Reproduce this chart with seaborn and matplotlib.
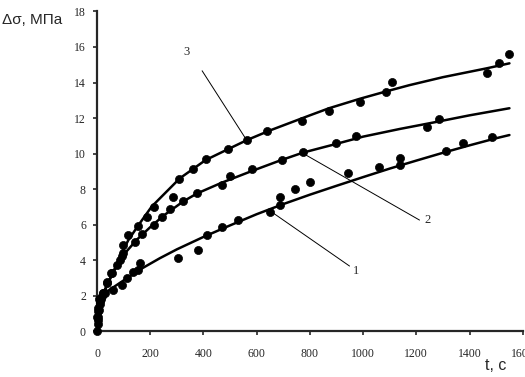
import pandas as pd
import matplotlib
matplotlib.use("Agg")
import matplotlib.pyplot as plt
import seaborn as sns

# measured points, series 1..3 (t in s, stress in MPa)
t1 = [0, 2, 4, 6, 10, 15, 30, 61, 93, 111, 136, 155, 161, 305, 380, 412, 468, 530,
      649, 689, 689, 743, 802, 943, 1059, 1140, 1140, 1310, 1375, 1483]
s1 = [0, 0.4, 0.8, 1.2, 1.5, 1.8, 2.12, 2.31, 2.59, 2.97, 3.34, 3.44, 3.81, 4.13, 4.56, 5.41, 5.84, 6.25,
      6.72, 7.1, 7.57, 7.98, 8.41, 8.88, 9.26, 9.73, 9.35, 10.16, 10.57, 10.95]

t2 = [2, 5, 12, 24, 36, 55, 86, 99, 143, 168, 214, 243, 274, 286, 324, 376, 468, 500,
      583, 695, 774, 899, 972, 1241, 1285]
s2 = [0.6, 1.1, 1.7, 2.12, 2.78, 3.25, 4.0, 4.38, 5.03, 5.46, 5.97, 6.4, 6.87, 7.53, 7.32, 7.79, 8.23, 8.73,
      9.13, 9.63, 10.1, 10.57, 10.99, 11.48, 11.93]

t3 = [0, 4, 8, 20, 24, 39, 51, 74, 93, 99, 117, 155, 186, 214, 309, 359, 409, 492, 564,
      637, 770, 872, 987, 1087, 1109, 1465, 1510, 1550]
s3 = [0.8, 1.3, 1.8, 1.95, 2.16, 2.72, 3.25, 3.72, 4.23, 4.85, 5.41, 5.92, 6.44, 7.0, 8.56, 9.11, 9.67, 10.24, 10.76,
      11.28, 11.85, 12.41, 12.92, 13.45, 14.01, 14.55, 15.12, 15.6]

# approximating curves
c1_t = [0, 5, 15, 30, 45, 100, 160, 236, 300, 400, 500, 600, 700, 800, 900, 1000, 1100, 1200, 1300, 1400, 1500, 1550]
c1_s = [0, 1.0, 1.7, 2.1, 2.3, 2.85, 3.45, 4.1, 4.6, 5.3, 5.95, 6.58, 7.15, 7.68, 8.18, 8.67, 9.15, 9.6, 10.04, 10.46, 10.86, 11.04]

c2_t = [0, 5, 15, 30, 60, 100, 150, 200, 250, 324, 376, 468, 583, 687, 774, 899, 1000, 1137, 1262, 1400, 1550]
c2_s = [0, 1.0, 1.65, 2.3, 3.3, 4.3, 5.15, 5.85, 6.5, 7.3, 7.75, 8.35, 9.02, 9.6, 10.05, 10.54, 10.95, 11.38, 11.74, 12.15, 12.55]

c3_t = [0, 5, 15, 30, 60, 100, 117, 155, 205, 236, 311, 408, 492, 564, 650, 724, 800, 872, 987, 1087, 1174, 1300, 1465, 1550]
c3_s = [0, 1.0, 1.7, 2.35, 3.3, 4.6, 5.1, 5.95, 7.0, 7.47, 8.6, 9.63, 10.24, 10.76, 11.3, 11.72, 12.15, 12.55, 13.08, 13.5, 13.85, 14.3, 14.8, 15.08]

# labels with leader lines: text pos, line start, line end
labels = ["1", "2", "3"]
lab_pos = [(972, 3.4), (1243, 6.25), (336, 15.73)]
lead_from = [(949, 3.66), (1212, 6.25), (395, 14.66)]
lead_to = [(655, 6.72), (774, 10.01), (562, 10.76)]

x_ticks = list(range(0, 1601, 200))
y_ticks = list(range(0, 19, 2))

sns.set_style("ticks")
plt.rcParams["font.family"] = ["Liberation Serif", "DejaVu Serif"]

fig = plt.figure(figsize=(5.25, 3.77), dpi=100)
ax = fig.add_axes([0.1848, 0.122, 0.8109, 0.8475])

for ct, cs in [(c1_t, c1_s), (c2_t, c2_s), (c3_t, c3_s)]:
    sns.lineplot(x=ct, y=cs, ax=ax, color="black", linewidth=1.8, sort=False, estimator=None, zorder=2)

for tt, ss in [(t1, s1), (t2, s2), (t3, s3)]:
    sns.scatterplot(x=tt, y=ss, ax=ax, color="black", s=34, edgecolor="black", linewidth=0.5, zorder=3, clip_on=False)

for lab, p, a, b in zip(labels, lab_pos, lead_from, lead_to):
    ax.plot([a[0], b[0]], [a[1], b[1]], color="black", linewidth=0.7, zorder=1)
    ax.text(p[0], p[1], lab, fontsize=9, ha="center", va="center")

ax.set_xlim(0, 1600)
ax.set_ylim(0, 18)
ax.set_xticks(x_ticks)
ax.set_yticks(y_ticks)
ax.tick_params(axis="x", direction="out", length=3, width=1.2, pad=9, labelsize=8.5)
ax.tick_params(axis="y", direction="out", length=3, width=1.2, pad=5, labelsize=8.5)
sns.despine(ax=ax)
for sp in ["left", "bottom"]:
    ax.spines[sp].set_linewidth(1.6)
ax.set_xlabel("")
ax.set_ylabel("")

fig.text(2 / 525, 1 - 20 / 377, "Δσ, МПа", fontsize=11, family=["Liberation Sans", "DejaVu Sans"], va="center", ha="left")
fig.text(496 / 525, 1 - 365 / 377, "t, c", fontsize=11.5, family=["Liberation Sans", "DejaVu Sans"], va="center", ha="center")

fig.savefig("out.png", dpi=100)
